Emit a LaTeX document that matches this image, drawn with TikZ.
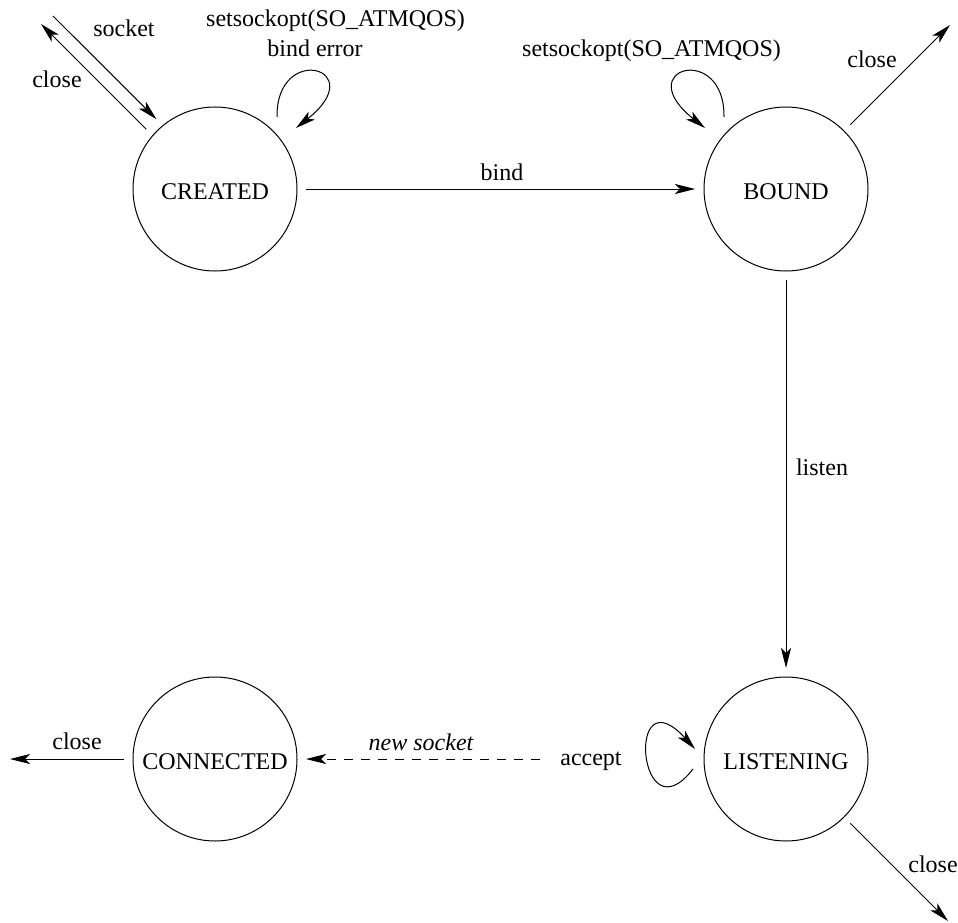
\documentclass[tikz,border=0pt]{standalone}
\usepackage{fontspec}
\setmainfont{Liberation Serif}
\usetikzlibrary{arrows.meta,calc}
\begin{document}
\begin{tikzpicture}[x=1pt,y=-1pt,
  font=\fontsize{24}{28}\selectfont,
  state/.style={circle,draw,line width=1pt,minimum size=164pt,inner sep=0pt,outer sep=9pt,text height=21pt,text depth=0pt},
  lbl/.style={inner sep=0pt,anchor=base},
  conn/.style={line width=1pt,-{Stealth[length=20pt,width=10pt,inset=5pt]}}]
\useasboundingbox (0,0) rectangle (958,923);

% states
\node[state] (created)   at (215,189) {CREATED};
\node[state] (bound)     at (786,189) {BOUND};
\node[state] (connected) at (215,759) {CONNECTED};
\node[state] (listening) at (786,759) {LISTENING};

% free ends
\coordinate (sockin)   at (53,16);
\coordinate (closeA)   at (41,24);
\coordinate (closeB)   at (950,25);
\coordinate (closeC)   at (10,759);
\coordinate (closeL)   at (948,921);
\coordinate (newsock)  at (540,759);
\coordinate (cls) at (277,117);
\coordinate (cle) at (296,128);
\coordinate (bls) at (724,117);
\coordinate (ble) at (705,128);
\coordinate (lls) at (693,769);
\coordinate (lle) at (695,749);

% connectors
\draw[conn] (sockin) -- (created.130);
\draw[conn] (created.139) -- (closeA);
\draw[conn] (cls) .. controls (276,42) and (372,68) .. (cle);
\draw[conn] (created.east) -- (bound.west);
\draw[conn] (bls) .. controls (725,42) and (629,68) .. (ble);
\draw[conn] (bound.45) -- (closeB);
\draw[conn] (bound.south) -- (listening.north);
\draw[conn] (lls) .. controls (638,840) and (625,672) .. (lle);
\draw[conn,dash pattern=on 9pt off 8pt] (newsock) -- (connected.east);
\draw[conn] (connected.west) -- (closeC);
\draw[conn] (listening.-45) -- (closeL);

% labels
\node[lbl] (tsocket) at (124,37) {socket};
\node[lbl] (tcloseA) at (57,88) {close};
\node[lbl,anchor=base west] (tsetA) at (206,27) {setsockopt(SO\_ATMQOS)};
\node[lbl] (tbinderr) at (315,57) {bind error};
\node[lbl] (tbind) at (502,180) {bind};
\node[lbl,anchor=base west] (tsetB) at (522,57) {setsockopt(SO\_ATMQOS)};
\node[lbl] (tcloseB) at (872,68) {close};
\node[lbl] (tlisten) at (822,475) {listen};
\node[lbl] (taccept) at (591,765) {accept};
\node[lbl] (tnew) at (421,750) {\itshape new socket};
\node[lbl] (tcloseC) at (77,749) {close};
\node[lbl] (tcloseL) at (933,872) {close};
\end{tikzpicture}
\end{document}
